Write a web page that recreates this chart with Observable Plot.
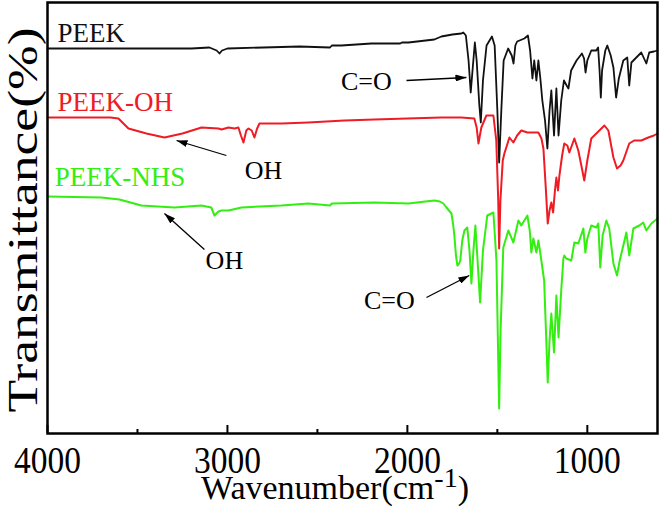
<!DOCTYPE html>
<html>
<head>
<meta charset="utf-8">
<script src="https://cdn.jsdelivr.net/npm/d3@7"></script>
<script src="https://cdn.jsdelivr.net/npm/@observablehq/plot@0.6"></script>
<style>
  html, body { margin: 0; padding: 0; background: #fff; }
  #chart { width: 661px; height: 508px; }
</style>
</head>
<body>
<div id="chart"></div>
<script>
// ---- Data (wavenumber in cm-1, transmittance in arbitrary units) ----
const peekWn = [4000,3800,3500,3200,3100,3060,3044,3030,3000,2800,2600,2430,2420,2367,2200,2040,2030,1994,1850,1811,1750,1700,1689,1675,1660,1648,1638,1625,1615,1600,1592,1580,1560,1530,1515,1500,1490,1478,1465,1440,1420,1410,1400,1390,1350,1330,1318,1305,1295,1283,1272,1261,1250,1235,1222,1210,1200,1185,1172,1160,1145,1130,1115,1105,1090,1060,1030,1018,1010,1000,978,950,940,932,925,918,900,889,870,855,840,825,800,778,767,755,744,700,672,656,630,610];
const peekT  = [385,385,385,385,386,383,380,383,385,386,387,386,388,388,390,390,391,391,394,397,399,400,401,398,373,341,363,391,373,328,311,353,388,397,388,323,271,323,373,385,378,370,388,392,395,398,383,355,373,353,373,355,333,313,285,323,343,298,345,298,333,353,348,345,363,373,380,375,361,373,383,383,386,363,336,363,383,388,378,366,336,355,373,376,348,371,373,381,370,381,382,383];

const peekOhWn = [4000,3800,3650,3606,3550,3450,3350,3250,3144,3050,3033,2994,2960,2939,2925,2911,2895,2883,2865,2850,2835,2822,2700,2550,2350,2183,2000,1811,1700,1628,1615,1605,1589,1561,1522,1506,1495,1490,1483,1470,1461,1433,1411,1390,1367,1333,1311,1272,1255,1244,1230,1220,1210,1200,1190,1180,1172,1163,1155,1140,1128,1111,1100,1072,1050,1030,1017,1000,978,950,905,883,855,835,815,800,767,740,700,661,630,610];
const peekOhT  = [316,316,316,315,305,300,296,300,306,305,304,306,305,306,298,291,303,305,303,296,305,310,310,311,313,314,315,316,316,315,306,290,306,318,318,293,233,185,233,273,280,296,291,298,303,301,301,301,295,285,243,210,223,231,221,243,256,243,258,278,290,288,281,295,283,265,253,273,295,300,308,303,276,265,268,273,290,293,293,296,298,300];

const peekNhsWn = [4000,3700,3600,3478,3294,3144,3090,3072,3050,3033,2994,2922,2700,2550,2430,2420,2183,1994,1900,1850,1820,1800,1783,1755,1745,1739,1730,1722,1712,1706,1695,1683,1667,1655,1644,1633,1622,1610,1596,1580,1556,1522,1505,1497,1490,1482,1467,1439,1411,1383,1367,1333,1320,1311,1300,1283,1272,1261,1240,1230,1220,1210,1200,1185,1172,1160,1145,1133,1128,1117,1089,1072,1050,1022,1011,1000,978,950,939,928,915,894,878,855,835,820,800,783,767,744,711,689,672,644,610];
const peekNhsT  = [237,236,234,228,226,228,226,218,222,223,223,226,228,230,228,230,231,230,232,233,232,230,226,220,208,198,178,168,170,173,193,203,206,183,150,183,208,173,131,183,218,221,173,93,25,103,186,203,191,213,208,218,203,181,195,181,193,180,153,103,51,93,120,81,138,96,143,175,178,175,173,191,190,205,181,195,208,206,210,166,198,213,205,170,158,173,188,201,178,205,208,211,203,210,215];

const seriesNames  = ["PEEK", "PEEK-OH", "PEEK-NHS"];
const seriesColors = ["#111111", "#ee1c24", "#33ee11"];
const labelWn = [3945, 3945, 3960];
const labelT  = [400, 331, 256];

const noteTexts = ["C=O", "OH", "OH", "C=O"];
const noteWn = [2228, 2800, 3017, 2100];
const noteT  = [352, 263, 173, 133];
const arrowFromWn = [2005, 3006, 3128, 1894];
const arrowFromT  = [353, 278, 184, 136];
const arrowToWn   = [1672, 3283, 3350, 1656];
const arrowToT    = [356, 293, 220, 158];

const majorTicks = [4000, 3000, 2000, 1000];
const minorTicks = [3500, 2500, 1500];

// ---- Build tables ----
const toRows = (wn, t) => wn.map((w, i) => ({wn: w, t: t[i]}));
const series = [toRows(peekWn, peekT), toRows(peekOhWn, peekOhT), toRows(peekNhsWn, peekNhsT)];
const labels = seriesNames.map((n, i) => ({name: n, wn: labelWn[i], t: labelT[i], color: seriesColors[i]}));
const notes = noteTexts.map((s, i) => ({s, wn: noteWn[i], t: noteT[i]}));
const arrows = arrowFromWn.map((w, i) => ({x1: w, y1: arrowFromT[i], x2: arrowToWn[i], y2: arrowToT[i]}));

const FONT = "'Liberation Serif', 'Times New Roman', serif";

const plot = Plot.plot({
  width: 661,
  height: 508,
  marginLeft: 47,
  marginRight: 4,
  marginTop: 2,
  marginBottom: 75,
  style: {fontFamily: FONT, background: "white", color: "black", overflow: "visible"},
  x: {domain: [4000, 610], axis: null},
  y: {domain: [0, 431], axis: null},
  marks: [
    Plot.line(series[0], {x: "wn", y: "t", stroke: seriesColors[0], strokeWidth: 1.8}),
    Plot.line(series[1], {x: "wn", y: "t", stroke: seriesColors[1], strokeWidth: 2}),
    Plot.line(series[2], {x: "wn", y: "t", stroke: seriesColors[2], strokeWidth: 2}),
    Plot.ruleX(majorTicks, {x: d => d, y1: 0, y2: 8, stroke: "black", strokeWidth: 2}),
    Plot.ruleX(minorTicks, {x: d => d, y1: 0, y2: 4, stroke: "black", strokeWidth: 2}),
    Plot.axisX(majorTicks, {anchor: "bottom", tickSize: 0, tickPadding: 13, fontSize: 37, fontFamily: FONT, tickFormat: d => String(d), label: null}),
    Plot.frame({stroke: "black", strokeWidth: 2.5}),
    Plot.text(labels, {x: "wn", y: "t", text: "name", fill: "color", textAnchor: "start", fontSize: 27, fontFamily: FONT}),
    Plot.text(notes, {x: "wn", y: "t", text: "s", fill: "black", fontSize: 26, fontFamily: FONT}),
    Plot.link(arrows, {x1: "x1", y1: "y1", x2: "x2", y2: "y2", stroke: "black", strokeWidth: 1.3})
  ]
});

document.getElementById("chart").appendChild(plot);

// ---- Filled arrowheads, condensed tick labels, axis titles ----
const svg = d3.select(plot);
const defs = svg.insert("defs", ":first-child");
defs.append("marker")
  .attr("id", "ahead")
  .attr("viewBox", "0 0 10 10")
  .attr("refX", 10).attr("refY", 5)
  .attr("markerWidth", 11).attr("markerHeight", 7)
  .attr("markerUnits", "userSpaceOnUse")
  .attr("preserveAspectRatio", "none")
  .attr("orient", "auto")
  .append("path").attr("d", "M0,0L10,5L0,10Z").attr("fill", "black");
svg.selectAll('g[aria-label="link"] path').attr("marker-end", "url(#ahead)");

svg.selectAll('g[aria-label="x-axis tick label"] text')
  .attr("textLength", 67)
  .attr("lengthAdjust", "spacingAndGlyphs");

const xt = svg.append("text")
  .attr("x", 335).attr("y", 499)
  .attr("text-anchor", "middle")
  .attr("font-family", FONT)
  .attr("font-size", 34)
  .attr("fill", "black");
xt.append("tspan").text("Wavenumber(cm");
xt.append("tspan").attr("font-size", 28).attr("dy", -12).text("-1");
xt.append("tspan").attr("dy", 12).text(")");

svg.append("text")
  .attr("transform", "translate(37,220) rotate(-90)")
  .attr("text-anchor", "middle")
  .attr("font-family", FONT)
  .attr("font-size", 42)
  .attr("textLength", 385)
  .attr("lengthAdjust", "spacingAndGlyphs")
  .attr("fill", "black")
  .text("Transmittance(%)");
</script>
</body>
</html>
